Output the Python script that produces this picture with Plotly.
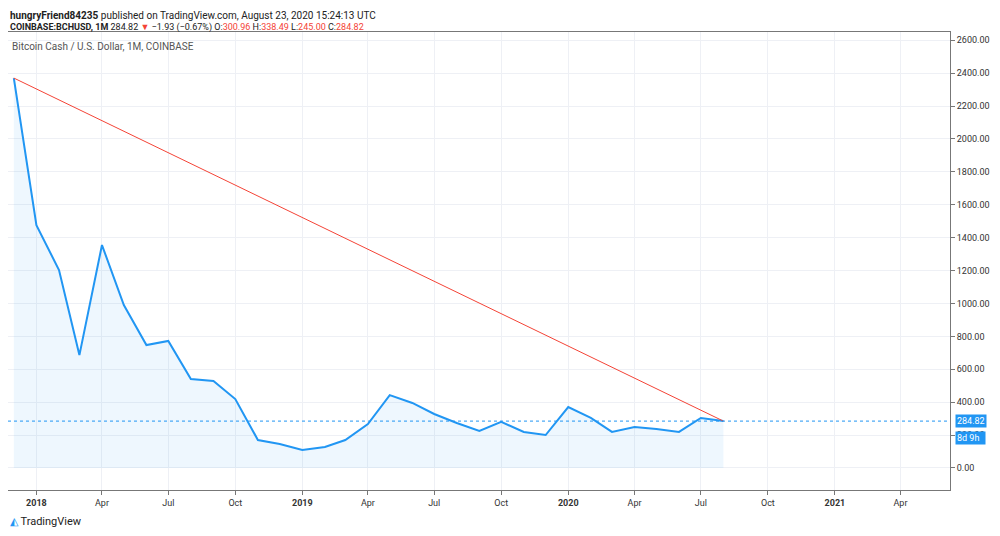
import plotly.graph_objects as go

months = ["2017-12-01","2018-01-01","2018-02-01","2018-03-01","2018-04-01","2018-05-01","2018-06-01",
          "2018-07-01","2018-08-01","2018-09-01","2018-10-01","2018-11-01","2018-12-01",
          "2019-01-01","2019-02-01","2019-03-01","2019-04-01","2019-05-01","2019-06-01",
          "2019-07-01","2019-08-01","2019-09-01","2019-10-01","2019-11-01","2019-12-01",
          "2020-01-01","2020-02-01","2020-03-01","2020-04-01","2020-05-01","2020-06-01",
          "2020-07-01","2020-08-01"]
close = [2370,1476,1203,686,1355,990,747,772,541,528,419,170,146,109,128,170,267,443,395,
         328,273,225,280,219,200,370,304,219,249,237,219,304,284.82]
trend_x = ["2017-12-01","2020-08-01"]
trend_y = [2370,284.82]
last = 284.82
yticks = list(range(0,2601,200))
xtickvals = ["2018-01-01","2018-04-01","2018-07-01","2018-10-01","2019-01-01","2019-04-01","2019-07-01",
             "2019-10-01","2020-01-01","2020-04-01","2020-07-01","2020-10-01","2021-01-01","2021-04-01"]
xticktext = ["<b>2018</b>","Apr","Jul","Oct","<b>2019</b>","Apr","Jul","Oct","<b>2020</b>","Apr","Jul","Oct","<b>2021</b>","Apr"]

fig = go.Figure()
fig.add_trace(go.Scatter(x=months, y=close, mode="lines", line=dict(color="#2196f3", width=2),
                         fill="tozeroy", fillcolor="rgba(33,150,243,0.08)"))
fig.add_trace(go.Scatter(x=trend_x, y=trend_y, mode="lines", line=dict(color="#f44336", width=1)))
fig.add_hline(y=last, line=dict(color="#2196f3", width=1, dash="dot"))

fig.update_layout(
    width=992, height=528, showlegend=False, plot_bgcolor="white", paper_bgcolor="white",
    margin=dict(l=0, r=50, t=24, b=46, autoexpand=False),
    font=dict(family="Roboto", size=9, color="#333"),
    xaxis=dict(range=["2017-11-23","2021-06-08"], tickvals=xtickvals, ticktext=xticktext,
               showgrid=True, gridcolor="#eef0f5", zeroline=False, showline=True, linecolor="#777",
               mirror=True, ticks="outside", ticklen=4, tickcolor="#777"),
    yaxis=dict(range=[-134,2650], side="right", tickvals=yticks,
               ticktext=[f"{v:.2f}" for v in yticks], showgrid=True, gridcolor="#eef0f5",
               zeroline=False, showline=True, linecolor="#777", mirror=True,
               ticks="outside", ticklen=4, tickcolor="#777"),
)
fig.add_annotation(xref="paper", yref="paper", x=0.0, y=1, yshift=17, xanchor="left", yanchor="middle", showarrow=False,
    text="<b>hungryFriend84235</b> published on TradingView.com, August 23, 2020 15:24:13 UTC", font=dict(size=10, color="#222"))
fig.add_annotation(xref="paper", yref="paper", x=0.0, y=1, yshift=5, xanchor="left", yanchor="middle", showarrow=False,
    text="<b>COINBASE:BCHUSD, 1M</b> 284.82 <span style='color:#f44336'>▼</span> −1.93 (−0.67%) O:<span style='color:#f44336'>300.96</span> H:<span style='color:#f44336'>338.49</span> L:<span style='color:#f44336'>245.00</span> C:<span style='color:#f44336'>284.82</span>",
    font=dict(size=9, color="#222"))
fig.add_annotation(xref="paper", yref="paper", x=0.002, y=0.985, xanchor="left", yanchor="top", showarrow=False,
    text="Bitcoin Cash / U.S. Dollar, 1M, COINBASE", font=dict(size=10, color="#555"))
fig.add_annotation(xref="paper", yref="y", x=1.005, y=last, xanchor="left", showarrow=False,
    text="284.82", bgcolor="#2196f3", font=dict(size=9, color="white"), borderpad=1)
fig.add_annotation(xref="paper", yref="y", x=1.005, y=last-100, xanchor="left", showarrow=False,
    text="8d 9h&nbsp;&nbsp;", bgcolor="#2196f3", font=dict(size=9, color="white"), borderpad=1)
fig.add_annotation(xref="paper", yref="paper", x=0.0, y=0, yshift=-31, xanchor="left", yanchor="middle", showarrow=False,
    text="<span style='color:#2196f3'>◭</span> TradingView", font=dict(size=11, color="#222"))
fig.write_html("out.html")
